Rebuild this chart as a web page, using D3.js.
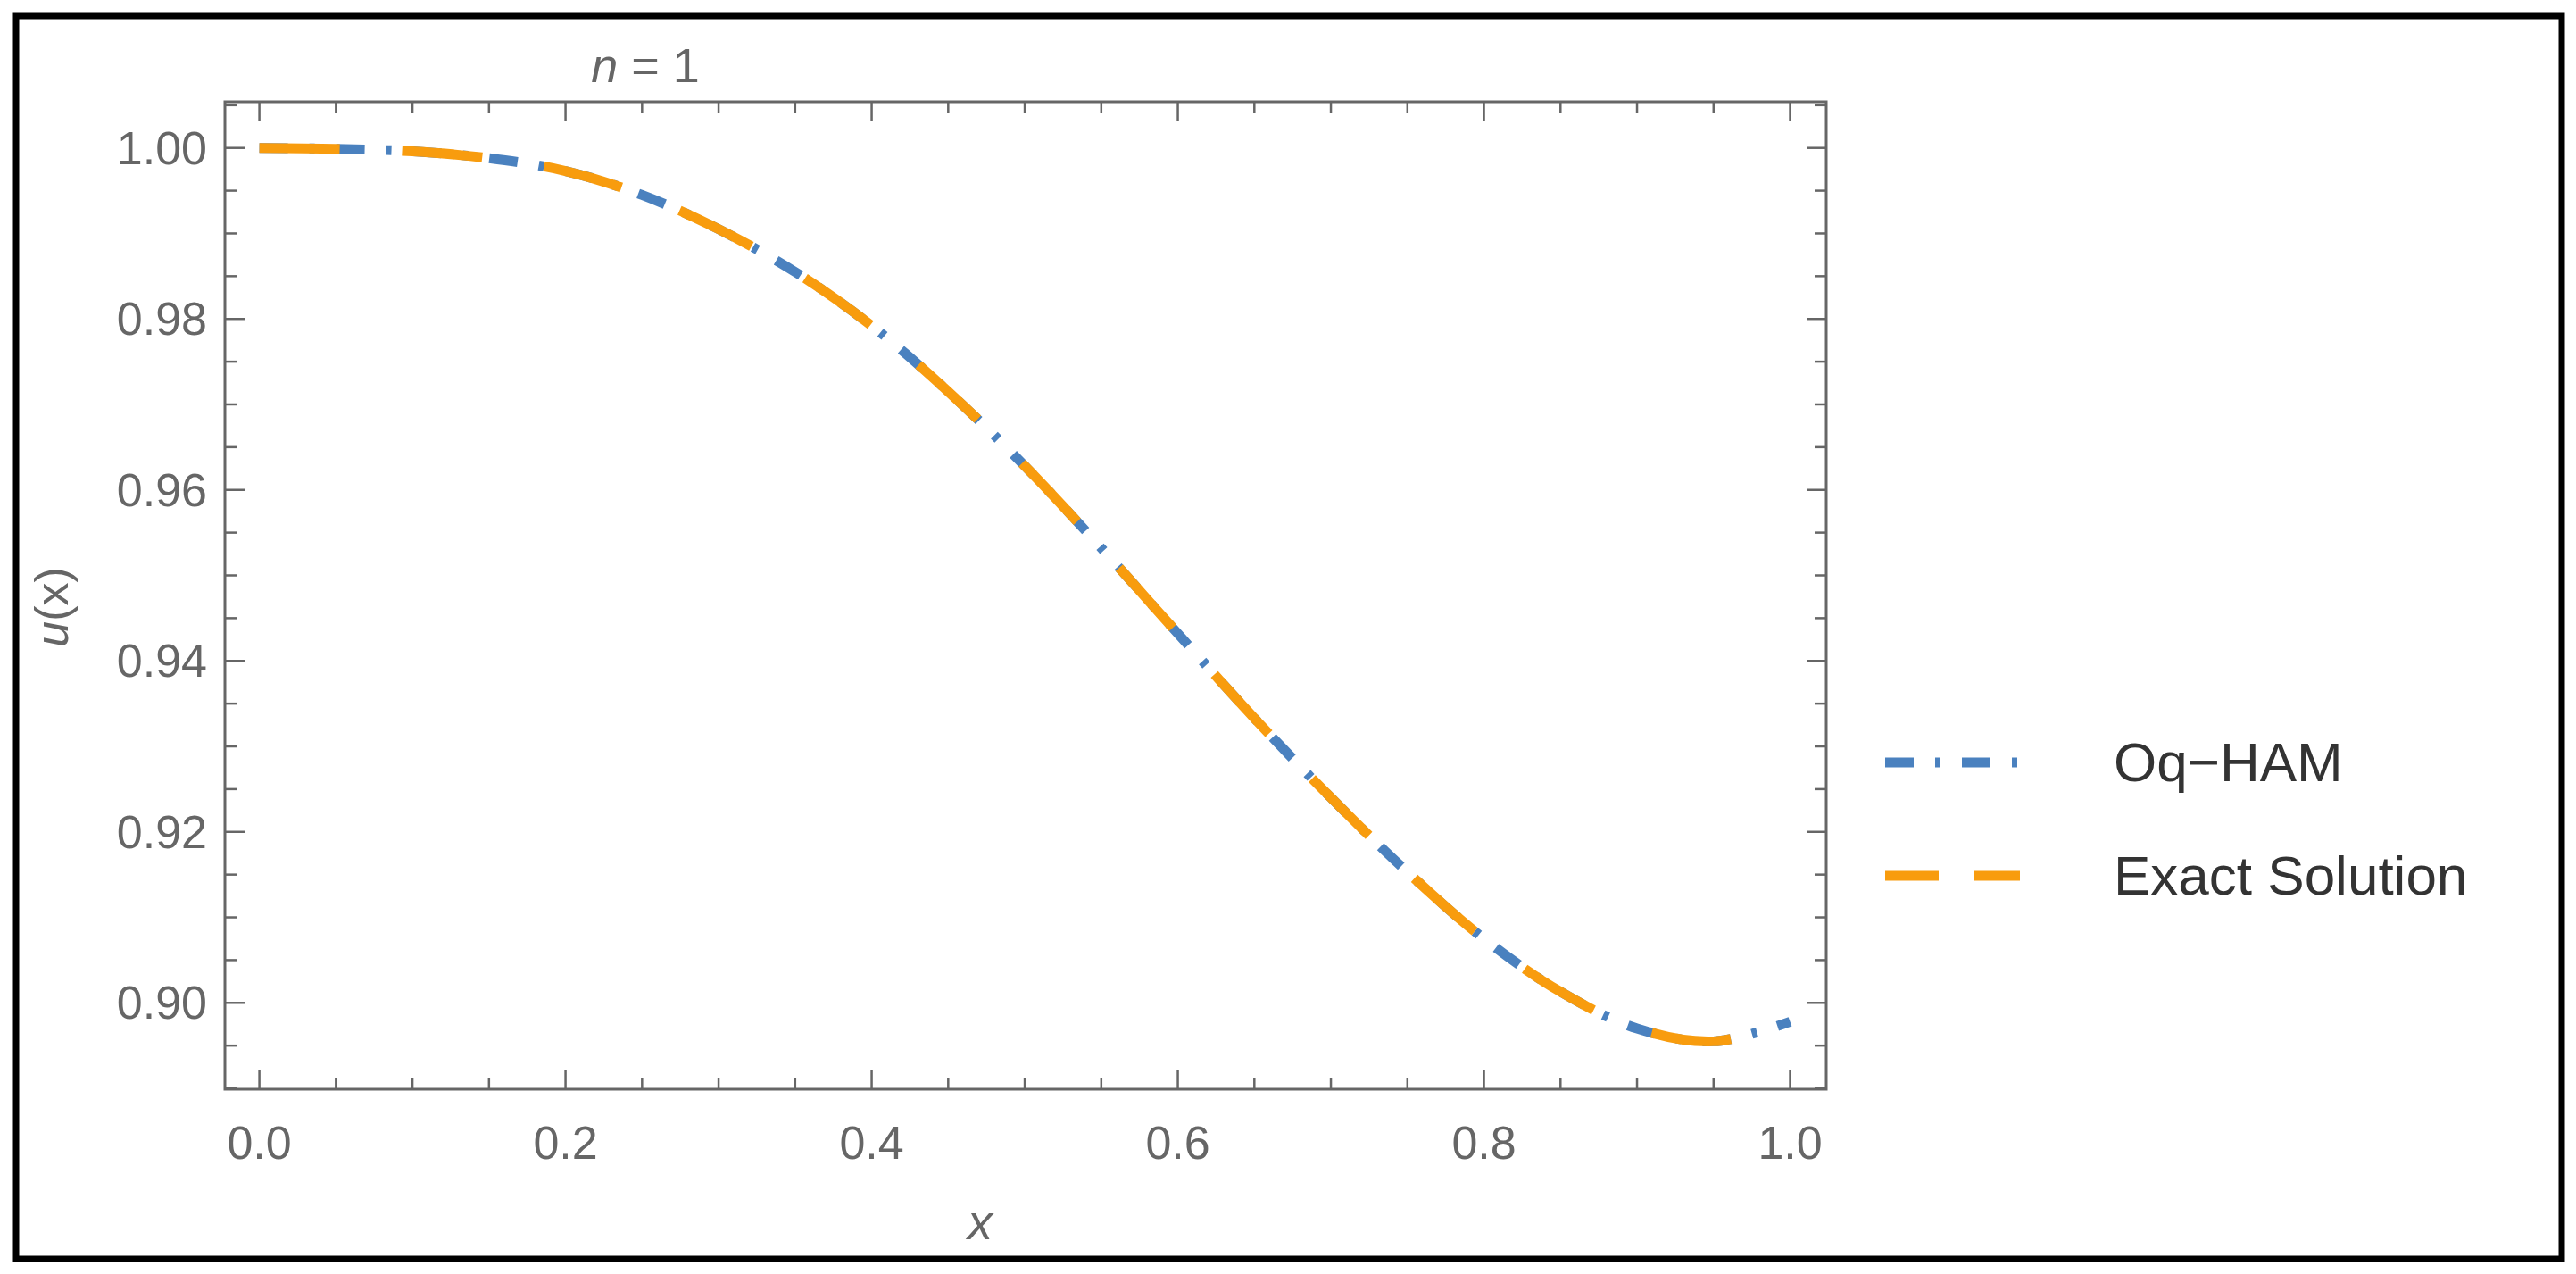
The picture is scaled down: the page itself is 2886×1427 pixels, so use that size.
<!DOCTYPE html>
<html><head><meta charset="utf-8">
<script src="https://cdn.jsdelivr.net/npm/d3@7"></script>
<style>body{margin:0;background:#fff}svg{display:block}</style></head>
<body><svg id="c" width="2886" height="1427"></svg>
<script>
const xValues=[0,0.05,0.1,0.15,0.2,0.25,0.3,0.35,0.4,0.45,0.5,0.55,0.6,0.65,0.7,0.75,0.8,0.85,0.9,0.95,1.0];
const oqHam=[1.0000,0.9999,0.9996,0.9988,0.9973,0.9945,0.9905,0.9855,0.9792,0.9715,0.9628,0.9532,0.9432,0.9333,0.9240,0.9153,0.9075,0.9013,0.8970,0.8955,0.8978];
const exact=[1.0000,0.9999,0.9996,0.9988,0.9973,0.9945,0.9905,0.9855,0.9792,0.9715,0.9628,0.9532,0.9432,0.9333,0.9240,0.9153,0.9075,0.9013,0.8970,0.8955,0.8978];
const xTicks=[0,0.2,0.4,0.6,0.8,1.0];
const yTicks=[0.90,0.92,0.94,0.96,0.98,1.00];
const seriesNames=["Oq\u2212HAM","Exact Solution"];

const svg=d3.select("#c");
const L=252,R=2046,T=114,B=1220;
const x=d3.scaleLinear().domain([-0.0225,1.0236]).range([L,R]);
const y=d3.scaleLinear().domain([0.8899,1.0054]).range([B,T]);
const grey="#666";
svg.append("rect").attr("x",18).attr("y",18).attr("width",2852).attr("height",1392).attr("fill","none").attr("stroke","#000").attr("stroke-width",7);
svg.append("rect").attr("x",L).attr("y",T).attr("width",R-L).attr("height",B-T).attr("fill","none").attr("stroke",grey).attr("stroke-width",3);
const font="Liberation Sans, Arial, sans-serif";
const xMinor=d3.range(0,1.0001,0.05), yMinor=d3.range(0.89,1.0051,0.005);
function isMajor(v,arr){return arr.some(a=>Math.abs(a-v)<1e-6);}
xMinor.forEach(v=>{const len=isMajor(v,xTicks)?22:13;const px=x(v);
 svg.append("line").attr("x1",px).attr("x2",px).attr("y1",B).attr("y2",B-len).attr("stroke",grey).attr("stroke-width",2.5);
 svg.append("line").attr("x1",px).attr("x2",px).attr("y1",T).attr("y2",T+len).attr("stroke",grey).attr("stroke-width",2.5);});
yMinor.forEach(v=>{const len=isMajor(v,yTicks)?22:13;const py=y(v);
 svg.append("line").attr("x1",L).attr("x2",L+len).attr("y1",py).attr("y2",py).attr("stroke",grey).attr("stroke-width",2.5);
 svg.append("line").attr("x1",R).attr("x2",R-len).attr("y1",py).attr("y2",py).attr("stroke",grey).attr("stroke-width",2.5);});
xTicks.forEach(v=>svg.append("text").attr("x",x(v)).attr("y",B+78).attr("text-anchor","middle").attr("font-family",font).attr("font-size",52).attr("fill",grey).text(v.toFixed(1)));
yTicks.forEach(v=>svg.append("text").attr("x",L-20).attr("y",y(v)+18).attr("text-anchor","end").attr("font-family",font).attr("font-size",52).attr("fill",grey).text(v.toFixed(2)));
const t=svg.append("text").attr("x",723).attr("y",92).attr("text-anchor","middle").attr("font-family",font).attr("font-size",54).attr("fill",grey);
t.append("tspan").attr("font-style","italic").text("n");t.append("tspan").text(" = 1");
svg.append("text").attr("x",1098).attr("y",1388).attr("text-anchor","middle").attr("font-family",font).attr("font-size",56).attr("font-style","italic").attr("fill",grey).text("x");
const yl=svg.append("text").attr("transform","translate(76,680) rotate(-90)").attr("text-anchor","middle").attr("font-family",font).attr("font-size",52).attr("fill",grey);
yl.append("tspan").attr("font-style","italic").text("u");yl.append("tspan").text("(x)");
const line=d3.line().x((d,i)=>x(xValues[i])).y(d=>y(d)).curve(d3.curveCatmullRom);
svg.append("path").datum(oqHam).attr("d",line).attr("fill","none").attr("stroke","#4a81bf").attr("stroke-width",11).attr("stroke-dasharray","32,24,6,24");
svg.append("path").datum(exact).attr("d",line).attr("fill","none").attr("stroke","#f89c0e").attr("stroke-width",11).attr("stroke-dasharray","90,70");
const lg=[{c:"#4a81bf",d:"32,24,6,24",y:854},{c:"#f89c0e",d:"60,40",y:981}];
lg.forEach((g,i)=>{svg.append("line").attr("x1",2112).attr("x2",2263).attr("y1",g.y).attr("y2",g.y).attr("stroke",g.c).attr("stroke-width",11).attr("stroke-dasharray",g.d);
 svg.append("text").attr("x",2368).attr("y",g.y+21).attr("font-family",font).attr("font-size",62).attr("fill","#333").text(seriesNames[i]);});
</script></body></html>
